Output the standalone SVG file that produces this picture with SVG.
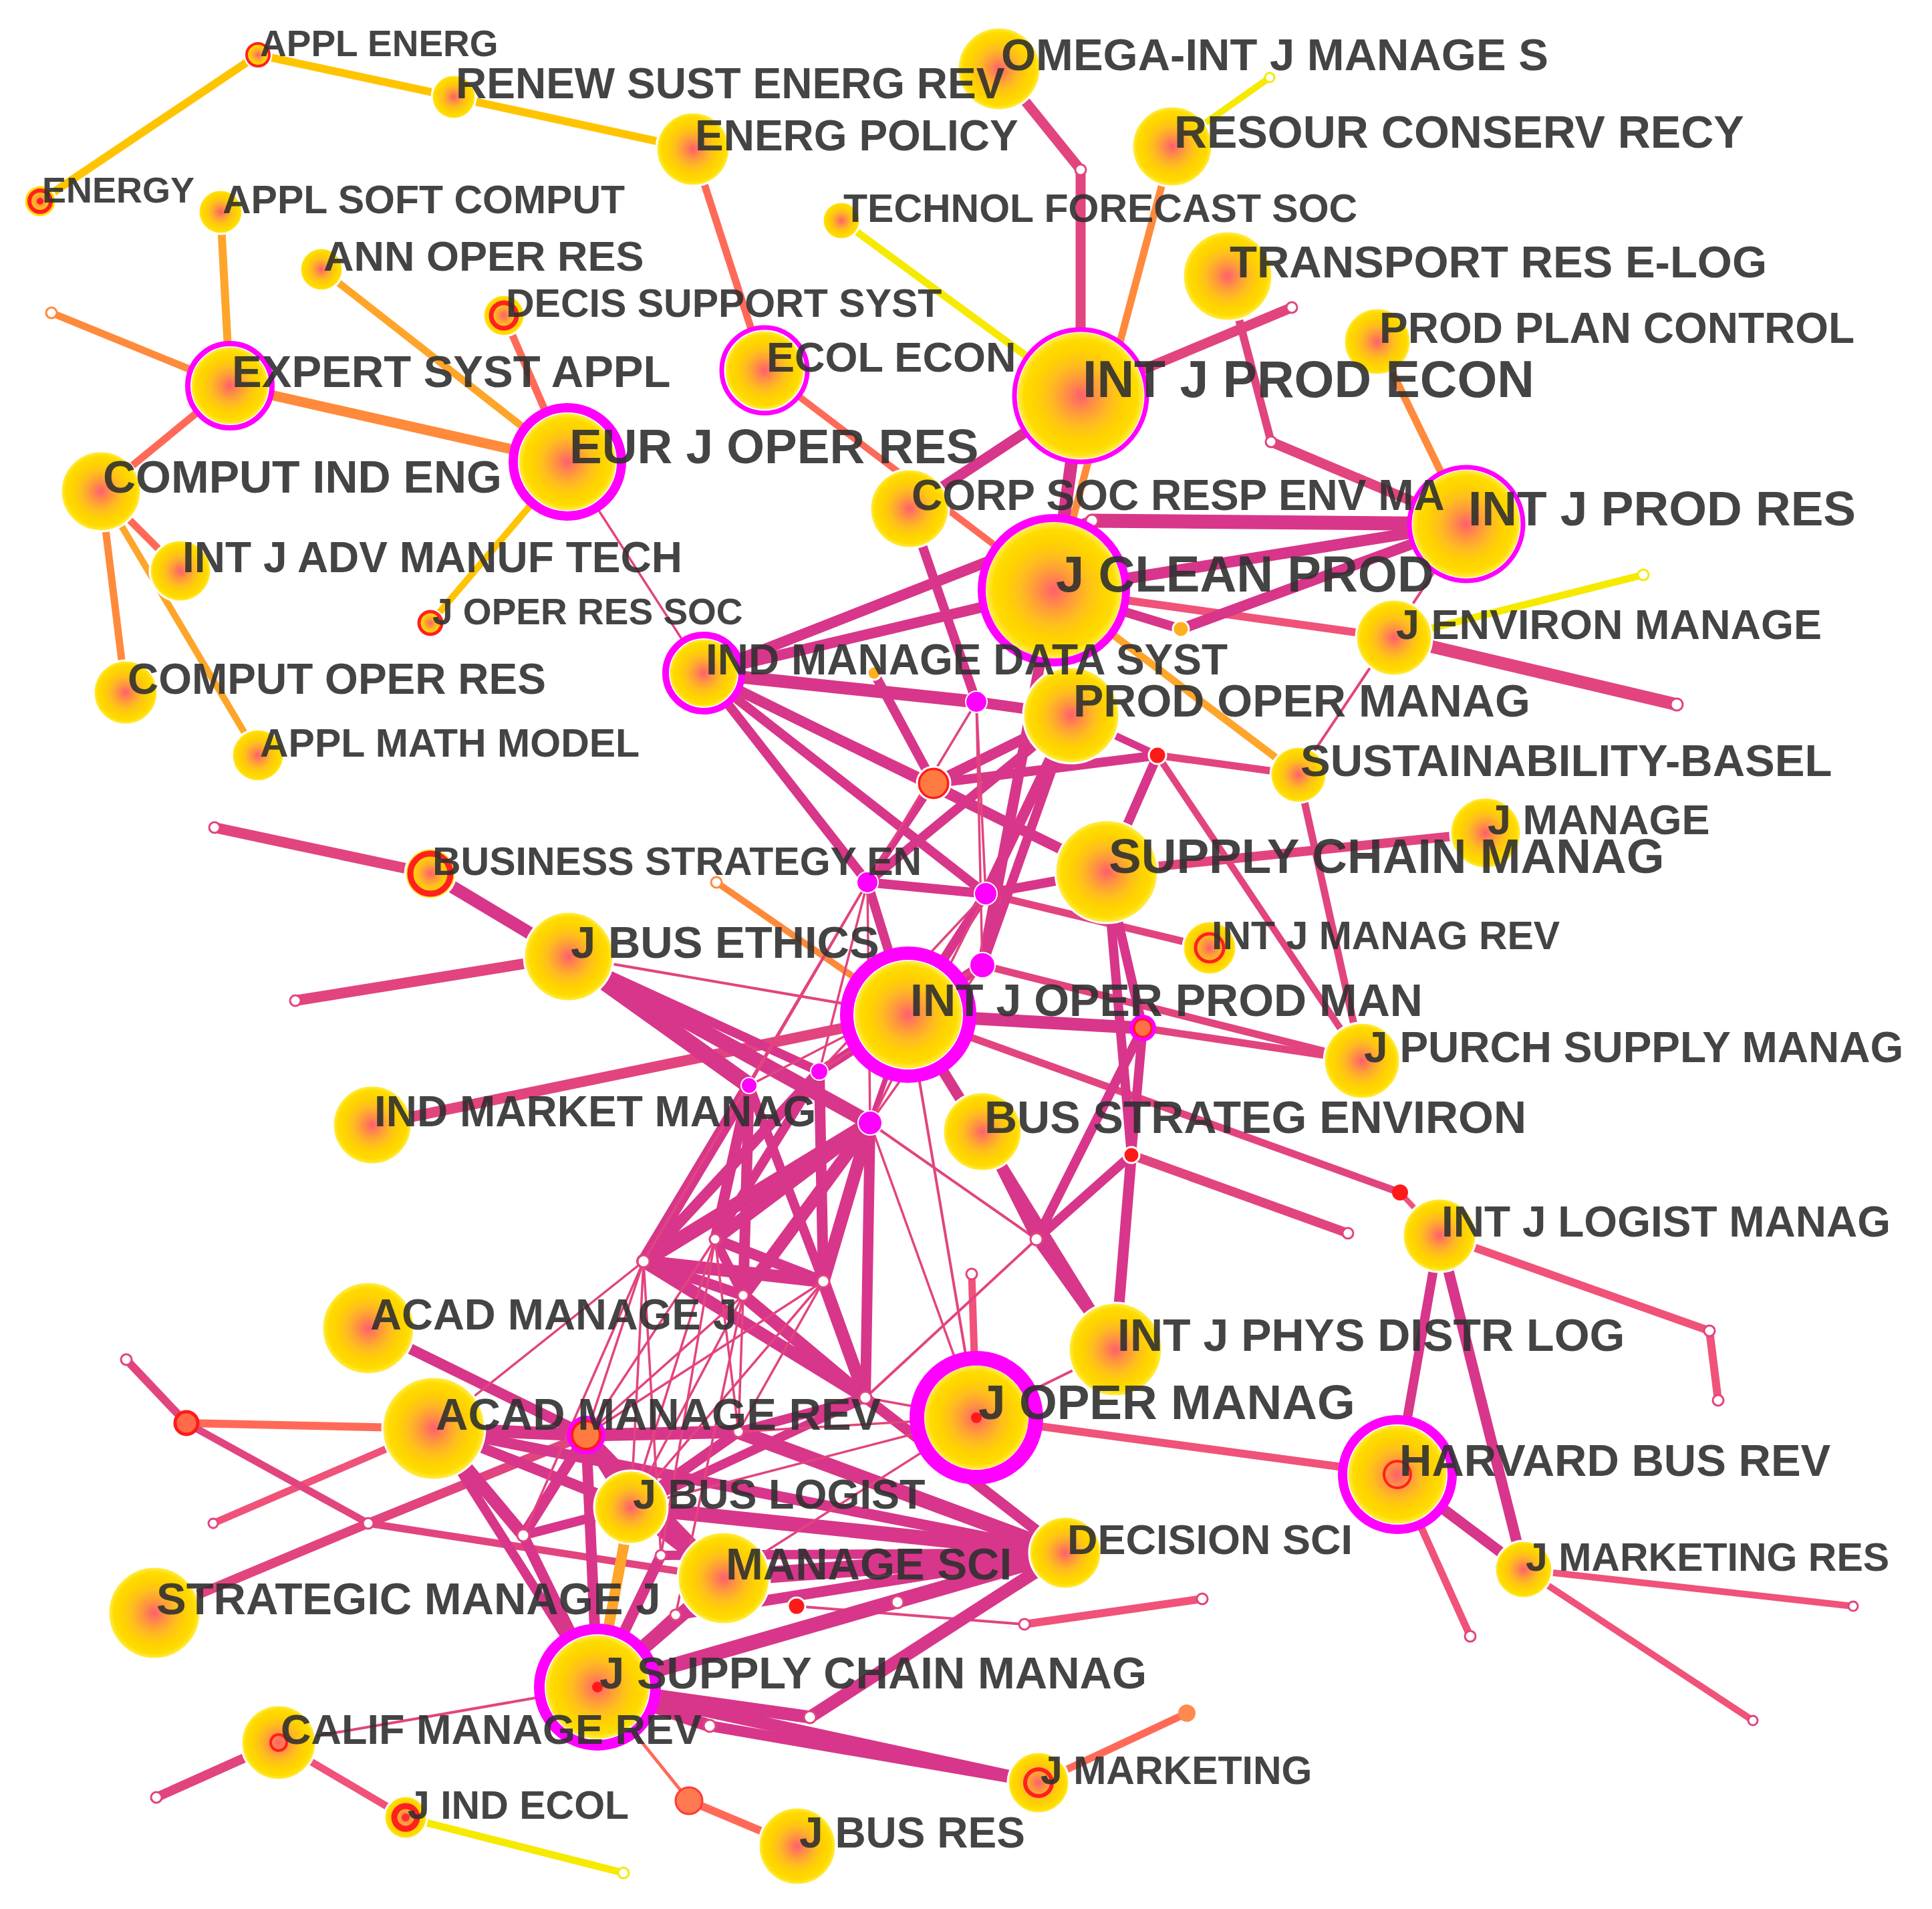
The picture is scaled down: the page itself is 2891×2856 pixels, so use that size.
<svg xmlns="http://www.w3.org/2000/svg" width="2891" height="2856" viewBox="0 0 2891 2856">
<defs>
<radialGradient id="ng" cx="50%" cy="50%" r="50%">
<stop offset="0" stop-color="#ff5e70"/>
<stop offset="0.12" stop-color="#ff7858"/>
<stop offset="0.3" stop-color="#ff9e38"/>
<stop offset="0.5" stop-color="#ffbf1c"/>
<stop offset="0.7" stop-color="#ffd200"/>
<stop offset="0.88" stop-color="#ffdc00"/>
<stop offset="0.95" stop-color="#ffe833"/>
<stop offset="1" stop-color="#fff060"/>
</radialGradient>
<style>
.e{fill:none;stroke-linecap:round}
.c1{stroke:#d8368a}.c2{stroke:#e2447f}.c3{stroke:#f0527a}.c4{stroke:#ff6a58}
.c5{stroke:#ff8a3c}.c6{stroke:#ffa52a}.c7{stroke:#ffc400}.c8{stroke:#f5ea00}
.nd{fill:url(#ng);stroke:#fff;stroke-width:3}
.mr{fill:none;stroke:#ff00ff}
.rr{fill:none;stroke:#ff2020}
.mg{fill:#ff00ff;stroke:#fff;stroke-width:2}
.w{fill:#fff;stroke:#e2447f;stroke-width:3}
.wy{fill:#fff;stroke:#f5ea00;stroke-width:3}
.wo{fill:#fff;stroke:#ff8a3c;stroke-width:3}
.lb{font-family:"Liberation Sans",Arial,sans-serif;font-weight:bold;fill:#303030;fill-opacity:.9}
</style>
</defs>
<rect width="2891" height="2856" fill="#fff"/>
<g id="connectors">
<line class="e c7" stroke-width="12" x1="60" y1="301" x2="386" y2="82"/>
<line class="e c7" stroke-width="12" x1="386" y1="82" x2="679" y2="145"/>
<line class="e c7" stroke-width="12" x1="679" y1="145" x2="1037" y2="223"/>
<line class="e c7" stroke-width="10" x1="849" y1="691" x2="644" y2="932"/>
<line class="e c8" stroke-width="11" x1="1259" y1="330" x2="1617" y2="592"/>
<line class="e c8" stroke-width="10" x1="1754" y1="219" x2="1900" y2="116"/>
<line class="e c8" stroke-width="11" x1="2086" y1="954" x2="2459" y2="860"/>
<line class="e c8" stroke-width="11" x1="607" y1="2719" x2="933" y2="2802"/>
<line class="e c6" stroke-width="12" x1="330" y1="317" x2="344" y2="577"/>
<line class="e c6" stroke-width="11" x1="481" y1="403" x2="849" y2="691"/>
<line class="e c6" stroke-width="10" x1="151" y1="735" x2="386" y2="1130"/>
<line class="e c6" stroke-width="11" x1="1577" y1="883" x2="1943" y2="1159"/>
<line class="e c5" stroke-width="11" x1="344" y1="577" x2="77" y2="468"/>
<line class="e c5" stroke-width="15" x1="344" y1="577" x2="849" y2="691"/>
<line class="e c5" stroke-width="11" x1="151" y1="735" x2="188" y2="1036"/>
<line class="e c5" stroke-width="11" x1="1754" y1="219" x2="1577" y2="883"/>
<line class="e c5" stroke-width="11" x1="2061" y1="511" x2="2194" y2="784"/>
<line class="e c5" stroke-width="10" x1="1072" y1="1320" x2="1359" y2="1518"/>
<line class="e c4" stroke-width="11" x1="1037" y1="223" x2="1144" y2="554"/>
<line class="e c4" stroke-width="11" x1="344" y1="577" x2="151" y2="735"/>
<line class="e c4" stroke-width="11" x1="754" y1="472" x2="849" y2="691"/>
<line class="e c4" stroke-width="11" x1="151" y1="735" x2="270" y2="854"/>
<line class="e c4" stroke-width="10" x1="1144" y1="554" x2="1577" y2="883"/>
<line class="e c4" stroke-width="12" x1="279" y1="2129" x2="649" y2="2137"/>
<line class="e c4" stroke-width="11" x1="1554" y1="2667" x2="1776" y2="2563"/>
<line class="e c4" stroke-width="5" x1="894" y1="2524" x2="1031" y2="2694"/>
<line class="e c4" stroke-width="12" x1="1031" y1="2694" x2="1193" y2="2762"/>
<line class="e c3" stroke-width="11" x1="649" y1="2137" x2="319" y2="2279"/>
<line class="e c3" stroke-width="12" x1="1577" y1="883" x2="2086" y2="954"/>
<line class="e c2" stroke-width="19" x1="2086" y1="954" x2="2509" y2="1054"/>
<line class="e c3" stroke-width="8" x1="2154" y1="1848" x2="2095" y2="1784"/>
<line class="e c3" stroke-width="12" x1="2154" y1="1848" x2="2558" y2="1991"/>
<line class="e c3" stroke-width="12" x1="2558" y1="1991" x2="2571" y2="2095"/>
<line class="e c3" stroke-width="11" x1="2091" y1="2206" x2="2200" y2="2448"/>
<line class="e c3" stroke-width="12" x1="2091" y1="2206" x2="1461" y2="2121"/>
<line class="e c3" stroke-width="10" x1="2280" y1="2348" x2="2773" y2="2403"/>
<line class="e c3" stroke-width="10" x1="2280" y1="2348" x2="2623" y2="2574"/>
<line class="e c3" stroke-width="11" x1="1454" y1="1906" x2="1461" y2="2121"/>
<line class="e c3" stroke-width="12" x1="1533" y1="2430" x2="1799" y2="2392"/>
<line class="e c3" stroke-width="11" x1="417" y1="2607" x2="607" y2="2719"/>
<line class="e c2" stroke-width="3.5" x1="849" y1="691" x2="1053" y2="1007"/>
<line class="e c2" stroke-width="15" x1="1495" y1="103" x2="1617" y2="254"/>
<line class="e c2" stroke-width="15" x1="1617" y1="254" x2="1617" y2="592"/>
<line class="e c2" stroke-width="15" x1="1617" y1="592" x2="1933" y2="460"/>
<line class="e c2" stroke-width="12" x1="1837" y1="413" x2="1902" y2="661"/>
<line class="e c2" stroke-width="15" x1="1902" y1="661" x2="2194" y2="784"/>
<line class="e c2" stroke-width="4" x1="2194" y1="784" x2="1943" y2="1159"/>
<line class="e c2" stroke-width="16" x1="644" y1="1307" x2="321" y2="1238"/>
<line class="e c2" stroke-width="16" x1="851" y1="1431" x2="442" y2="1497"/>
<line class="e c2" stroke-width="4" x1="851" y1="1431" x2="1359" y2="1518"/>
<line class="e c2" stroke-width="16" x1="557" y1="1683" x2="1359" y2="1518"/>
<line class="e c2" stroke-width="14" x1="1656" y1="1304" x2="2223" y2="1246"/>
<line class="e c2" stroke-width="11" x1="1475" y1="1337" x2="1810" y2="1418"/>
<line class="e c2" stroke-width="11" x1="1732" y1="1130" x2="1943" y2="1159"/>
<line class="e c2" stroke-width="10" x1="1732" y1="1130" x2="2038" y2="1587"/>
<line class="e c2" stroke-width="11" x1="1943" y1="1159" x2="2038" y2="1587"/>
<line class="e c2" stroke-width="11" x1="1710" y1="1538" x2="2038" y2="1587"/>
<line class="e c2" stroke-width="11" x1="1470" y1="1444" x2="2038" y2="1587"/>
<line class="e c2" stroke-width="11" x1="1359" y1="1518" x2="2095" y2="1784"/>
<line class="e c2" stroke-width="14" x1="1693" y1="1728" x2="2017" y2="1845"/>
<line class="e c2" stroke-width="12" x1="1053" y1="1007" x2="1397" y2="1172"/>
<line class="e c2" stroke-width="12" x1="279" y1="2129" x2="189" y2="2034"/>
<line class="e c2" stroke-width="11" x1="279" y1="2129" x2="551" y2="2279"/>
<line class="e c2" stroke-width="11" x1="551" y1="2279" x2="1083" y2="2361"/>
<line class="e c2" stroke-width="14" x1="231" y1="2413" x2="551" y2="2279"/>
<line class="e c2" stroke-width="14" x1="551" y1="2279" x2="877" y2="2147"/>
<line class="e c2" stroke-width="14" x1="417" y1="2607" x2="234" y2="2689"/>
<line class="e c2" stroke-width="4" x1="894" y1="2524" x2="417" y2="2607"/>
<line class="e c2" stroke-width="4" x1="1192" y1="2403" x2="1533" y2="2430"/>
<line class="e c2" stroke-width="4" x1="1359" y1="1518" x2="1461" y2="2121"/>
<line class="e c2" stroke-width="4" x1="1669" y1="2019" x2="1461" y2="2121"/>
<line class="e c2" stroke-width="4" x1="1551" y1="1854" x2="1295" y2="2091"/>
<line class="e c2" stroke-width="4" x1="1302" y1="1680" x2="1551" y2="1854"/>
<line class="e c1" stroke-width="19" x1="1617" y1="592" x2="1577" y2="883"/>
<line class="e c1" stroke-width="16" x1="1617" y1="592" x2="1361" y2="761"/>
<line class="e c1" stroke-width="16" x1="1053" y1="1007" x2="1634" y2="779"/>
<line class="e c1" stroke-width="16" x1="1053" y1="1007" x2="1577" y2="883"/>
<line class="e c1" stroke-width="21" x1="1634" y1="779" x2="2194" y2="784"/>
<line class="e c1" stroke-width="17" x1="1577" y1="883" x2="2194" y2="784"/>
<line class="e c1" stroke-width="16" x1="1767" y1="941" x2="2194" y2="784"/>
<line class="e c1" stroke-width="14" x1="1577" y1="883" x2="1767" y2="941"/>
<line class="e c1" stroke-width="14" x1="1361" y1="761" x2="1461" y2="1050"/>
<line class="e c1" stroke-width="19" x1="1053" y1="1007" x2="1461" y2="1050"/>
<line class="e c1" stroke-width="16" x1="1461" y1="1050" x2="1603" y2="1070"/>
<line class="e c1" stroke-width="16" x1="1053" y1="1007" x2="1656" y2="1304"/>
<line class="e c1" stroke-width="14" x1="1053" y1="1007" x2="1298" y2="1320"/>
<line class="e c1" stroke-width="14" x1="1053" y1="1007" x2="1475" y2="1337"/>
<line class="e c1" stroke-width="14" x1="1308" y1="1007" x2="1397" y2="1172"/>
<line class="e c1" stroke-width="16" x1="1397" y1="1172" x2="1603" y2="1070"/>
<line class="e c1" stroke-width="14" x1="1397" y1="1172" x2="1732" y2="1130"/>
<line class="e c1" stroke-width="11" x1="1397" y1="1172" x2="1656" y2="1304"/>
<line class="e c1" stroke-width="11" x1="1603" y1="1070" x2="1732" y2="1130"/>
<line class="e c1" stroke-width="16" x1="1603" y1="1070" x2="1475" y2="1337"/>
<line class="e c1" stroke-width="14" x1="1732" y1="1130" x2="1656" y2="1304"/>
<line class="e c1" stroke-width="14" x1="1298" y1="1320" x2="1475" y2="1337"/>
<line class="e c1" stroke-width="14" x1="1475" y1="1337" x2="1656" y2="1304"/>
<line class="e c1" stroke-width="14" x1="1656" y1="1304" x2="1710" y2="1538"/>
<line class="e c1" stroke-width="14" x1="1656" y1="1304" x2="1693" y2="1728"/>
<line class="e c1" stroke-width="16" x1="1693" y1="1728" x2="1669" y2="2019"/>
<line class="e c1" stroke-width="14" x1="1710" y1="1538" x2="1693" y2="1728"/>
<line class="e c1" stroke-width="19" x1="1359" y1="1518" x2="1710" y2="1538"/>
<line class="e c1" stroke-width="14" x1="1470" y1="1693" x2="1551" y2="1854"/>
<line class="e c1" stroke-width="14" x1="1551" y1="1854" x2="1669" y2="2019"/>
<line class="e c1" stroke-width="14" x1="1551" y1="1854" x2="1693" y2="1728"/>
<line class="e c1" stroke-width="14" x1="1551" y1="1854" x2="1710" y2="1538"/>
<line class="e c1" stroke-width="16" x1="1359" y1="1518" x2="1669" y2="2019"/>
<line class="e c1" stroke-width="14" x1="1359" y1="1518" x2="1298" y2="1320"/>
<line class="e c1" stroke-width="14" x1="1359" y1="1518" x2="1475" y2="1337"/>
<line class="e c1" stroke-width="16" x1="1359" y1="1518" x2="1470" y2="1444"/>
<line class="e c1" stroke-width="16" x1="1470" y1="1444" x2="1577" y2="883"/>
<line class="e c1" stroke-width="14" x1="1470" y1="1444" x2="1603" y2="1070"/>
<line class="e c1" stroke-width="11" x1="1298" y1="1320" x2="1397" y2="1172"/>
<line class="e c1" stroke-width="14" x1="1298" y1="1320" x2="1603" y2="1070"/>
<line class="e c1" stroke-width="19" x1="644" y1="1307" x2="851" y2="1431"/>
<line class="e c1" stroke-width="25" x1="851" y1="1431" x2="1121" y2="1624"/>
<line class="e c1" stroke-width="22" x1="851" y1="1431" x2="1302" y2="1680"/>
<line class="e c1" stroke-width="14" x1="851" y1="1431" x2="1226" y2="1603"/>
<line class="e c1" stroke-width="14" x1="1226" y1="1603" x2="1359" y2="1518"/>
<line class="e c1" stroke-width="8" x1="1302" y1="1680" x2="1359" y2="1518"/>
<line class="e c1" stroke-width="22" x1="1302" y1="1680" x2="963" y2="1887"/>
<line class="e c1" stroke-width="19" x1="1302" y1="1680" x2="1070" y2="1854"/>
<line class="e c1" stroke-width="19" x1="1302" y1="1680" x2="1232" y2="1917"/>
<line class="e c1" stroke-width="19" x1="1302" y1="1680" x2="1112" y2="1938"/>
<line class="e c1" stroke-width="19" x1="1121" y1="1624" x2="963" y2="1887"/>
<line class="e c1" stroke-width="16" x1="1121" y1="1624" x2="1070" y2="1854"/>
<line class="e c1" stroke-width="16" x1="1121" y1="1624" x2="1112" y2="1938"/>
<line class="e c1" stroke-width="16" x1="1226" y1="1603" x2="963" y2="1887"/>
<line class="e c1" stroke-width="16" x1="1226" y1="1603" x2="1232" y2="1917"/>
<line class="e c1" stroke-width="14" x1="1226" y1="1603" x2="1070" y2="1854"/>
<line class="e c1" stroke-width="19" x1="963" y1="1887" x2="1232" y2="1917"/>
<line class="e c1" stroke-width="16" x1="963" y1="1887" x2="1112" y2="1938"/>
<line class="e c1" stroke-width="16" x1="1070" y1="1854" x2="1232" y2="1917"/>
<line class="e c1" stroke-width="14" x1="1070" y1="1854" x2="1112" y2="1938"/>
<line class="e c1" stroke-width="19" x1="963" y1="1887" x2="1295" y2="2091"/>
<line class="e c1" stroke-width="19" x1="1232" y1="1917" x2="1295" y2="2091"/>
<line class="e c1" stroke-width="19" x1="1112" y1="1938" x2="1295" y2="2091"/>
<line class="e c1" stroke-width="16" x1="1302" y1="1680" x2="1295" y2="2091"/>
<line class="e c1" stroke-width="14" x1="1121" y1="1624" x2="1232" y2="1917"/>
<line class="e c1" stroke-width="16" x1="551" y1="1987" x2="877" y2="2147"/>
<line class="e c1" stroke-width="19" x1="649" y1="2137" x2="877" y2="2147"/>
<line class="e c1" stroke-width="19" x1="649" y1="2137" x2="783" y2="2297"/>
<line class="e c1" stroke-width="16" x1="783" y1="2297" x2="877" y2="2147"/>
<line class="e c1" stroke-width="14" x1="649" y1="2137" x2="894" y2="2524"/>
<line class="e c1" stroke-width="16" x1="649" y1="2137" x2="944" y2="2255"/>
<line class="e c1" stroke-width="16" x1="649" y1="2137" x2="1594" y2="2323"/>
<line class="e c1" stroke-width="19" x1="877" y1="2147" x2="944" y2="2255"/>
<line class="e c1" stroke-width="19" x1="877" y1="2147" x2="1105" y2="2142"/>
<line class="e c1" stroke-width="16" x1="877" y1="2147" x2="894" y2="2524"/>
<line class="e c1" stroke-width="19" x1="877" y1="2147" x2="1083" y2="2361"/>
<line class="e c1" stroke-width="19" x1="944" y1="2255" x2="1083" y2="2361"/>
<line class="e c1" stroke-width="22" x1="944" y1="2255" x2="1594" y2="2323"/>
<line class="e c1" stroke-width="22" x1="1105" y1="2142" x2="1594" y2="2323"/>
<line class="e c1" stroke-width="16" x1="1105" y1="2142" x2="944" y2="2255"/>
<line class="e c1" stroke-width="25" x1="1083" y1="2361" x2="1594" y2="2323"/>
<line class="e c1" stroke-width="22" x1="894" y1="2524" x2="1594" y2="2323"/>
<line class="e c1" stroke-width="22" x1="894" y1="2524" x2="1083" y2="2361"/>
<line class="e c1" stroke-width="19" x1="894" y1="2524" x2="1212" y2="2569"/>
<line class="e c1" stroke-width="19" x1="1212" y1="2569" x2="1594" y2="2323"/>
<line class="e c1" stroke-width="16" x1="1343" y1="2397" x2="1594" y2="2323"/>
<line class="e c1" stroke-width="16" x1="1343" y1="2397" x2="894" y2="2524"/>
<line class="e c1" stroke-width="19" x1="894" y1="2524" x2="1062" y2="2582"/>
<line class="e c1" stroke-width="16" x1="1062" y1="2582" x2="1554" y2="2667"/>
<line class="e c1" stroke-width="19" x1="894" y1="2524" x2="1554" y2="2667"/>
<line class="e c1" stroke-width="16" x1="989" y1="2327" x2="894" y2="2524"/>
<line class="e c1" stroke-width="14" x1="989" y1="2327" x2="1594" y2="2323"/>
<line class="e c1" stroke-width="16" x1="1011" y1="2416" x2="1594" y2="2323"/>
<line class="e c1" stroke-width="14" x1="1011" y1="2416" x2="894" y2="2524"/>
<line class="e c1" stroke-width="16" x1="1295" y1="2091" x2="1594" y2="2323"/>
<line class="e c1" stroke-width="14" x1="1295" y1="2091" x2="944" y2="2255"/>
<line class="e c1" stroke-width="14" x1="1295" y1="2091" x2="1105" y2="2142"/>
<line class="e c1" stroke-width="16" x1="783" y1="2297" x2="894" y2="2524"/>
<line class="e c1" stroke-width="14" x1="783" y1="2297" x2="944" y2="2255"/>
<line class="e c1" stroke-width="14" x1="2154" y1="1848" x2="2091" y2="2206"/>
<line class="e c1" stroke-width="16" x1="2154" y1="1848" x2="2280" y2="2348"/>
<line class="e c1" stroke-width="16" x1="2091" y1="2206" x2="2280" y2="2348"/>
<line class="e c6" stroke-width="16" x1="944" y1="2255" x2="894" y2="2524"/>
<line class="e c2" stroke-width="3.5" x1="1298" y1="1320" x2="1226" y2="1603"/>
<line class="e c2" stroke-width="3.5" x1="1298" y1="1320" x2="1121" y2="1624"/>
<line class="e c2" stroke-width="3.5" x1="1298" y1="1320" x2="1302" y2="1680"/>
<line class="e c2" stroke-width="3.5" x1="1475" y1="1337" x2="1302" y2="1680"/>
<line class="e c2" stroke-width="3.5" x1="1475" y1="1337" x2="1226" y2="1603"/>
<line class="e c2" stroke-width="3.5" x1="1470" y1="1444" x2="1121" y2="1624"/>
<line class="e c2" stroke-width="3.5" x1="1470" y1="1444" x2="1302" y2="1680"/>
<line class="e c2" stroke-width="3.5" x1="1470" y1="1444" x2="1226" y2="1603"/>
<line class="e c2" stroke-width="3.5" x1="1461" y1="1050" x2="1298" y2="1320"/>
<line class="e c2" stroke-width="3.5" x1="1461" y1="1050" x2="1475" y2="1337"/>
<line class="e c2" stroke-width="3.5" x1="1461" y1="1050" x2="1470" y2="1444"/>
<line class="e c2" stroke-width="3.5" x1="1298" y1="1320" x2="963" y2="1887"/>
<line class="e c2" stroke-width="3.5" x1="963" y1="1887" x2="877" y2="2147"/>
<line class="e c2" stroke-width="3.5" x1="963" y1="1887" x2="783" y2="2297"/>
<line class="e c2" stroke-width="3.5" x1="963" y1="1887" x2="944" y2="2255"/>
<line class="e c2" stroke-width="3.5" x1="963" y1="1887" x2="989" y2="2327"/>
<line class="e c2" stroke-width="3.5" x1="963" y1="1887" x2="649" y2="2137"/>
<line class="e c2" stroke-width="3.5" x1="1070" y1="1854" x2="877" y2="2147"/>
<line class="e c2" stroke-width="3.5" x1="1070" y1="1854" x2="944" y2="2255"/>
<line class="e c2" stroke-width="3.5" x1="1070" y1="1854" x2="989" y2="2327"/>
<line class="e c2" stroke-width="3.5" x1="1070" y1="1854" x2="1105" y2="2142"/>
<line class="e c2" stroke-width="3.5" x1="1112" y1="1938" x2="877" y2="2147"/>
<line class="e c2" stroke-width="3.5" x1="1112" y1="1938" x2="1105" y2="2142"/>
<line class="e c2" stroke-width="3.5" x1="1112" y1="1938" x2="944" y2="2255"/>
<line class="e c2" stroke-width="3.5" x1="1112" y1="1938" x2="1011" y2="2416"/>
<line class="e c2" stroke-width="3.5" x1="1232" y1="1917" x2="1105" y2="2142"/>
<line class="e c2" stroke-width="3.5" x1="1232" y1="1917" x2="944" y2="2255"/>
<line class="e c2" stroke-width="3.5" x1="1232" y1="1917" x2="877" y2="2147"/>
<line class="e c2" stroke-width="3.5" x1="1461" y1="2121" x2="1083" y2="2361"/>
<line class="e c2" stroke-width="3.5" x1="1461" y1="2121" x2="944" y2="2255"/>
<line class="e c2" stroke-width="3.5" x1="1461" y1="2121" x2="1295" y2="2091"/>
<line class="e c2" stroke-width="3.5" x1="1302" y1="1680" x2="1461" y2="2121"/>
<line class="e c2" stroke-width="3.5" x1="1461" y1="2121" x2="1105" y2="2142"/>
</g>
<g id="n-small">
<circle class="w" cx="1617" cy="254" r="8"/>
<circle class="w" cx="1902" cy="661" r="8"/>
<circle class="w" cx="1634" cy="779" r="9"/>
<circle class="w" cx="1551" cy="1854" r="9"/>
<circle class="w" cx="1454" cy="1906" r="8"/>
<circle class="w" cx="783" cy="2297" r="9"/>
<circle class="w" cx="551" cy="2279" r="8"/>
<circle class="w" cx="319" cy="2279" r="7"/>
<circle class="w" cx="189" cy="2034" r="8"/>
<circle class="w" cx="963" cy="1887" r="9"/>
<circle class="w" cx="1070" cy="1854" r="8"/>
<circle class="w" cx="1232" cy="1917" r="9"/>
<circle class="w" cx="1112" cy="1938" r="8"/>
<circle class="w" cx="1295" cy="2091" r="9"/>
<circle class="w" cx="989" cy="2327" r="8"/>
<circle class="w" cx="1011" cy="2416" r="8"/>
<circle class="w" cx="1105" cy="2142" r="8"/>
<circle class="w" cx="1343" cy="2397" r="9"/>
<circle class="w" cx="1212" cy="2569" r="9"/>
<circle class="w" cx="1062" cy="2582" r="9"/>
<circle class="w" cx="1533" cy="2430" r="8"/>
<circle class="w" cx="1799" cy="2392" r="8"/>
<circle class="w" cx="2558" cy="1991" r="8"/>
<circle class="w" cx="2571" cy="2095" r="8"/>
<circle class="w" cx="2200" cy="2448" r="8"/>
<circle class="w" cx="2773" cy="2403" r="7"/>
<circle class="w" cx="2623" cy="2574" r="7"/>
<circle class="w" cx="2017" cy="1845" r="8"/>
<circle class="w" cx="2509" cy="1054" r="9"/>
<circle class="w" cx="1933" cy="460" r="8"/>
<circle class="w" cx="321" cy="1238" r="8"/>
<circle class="w" cx="442" cy="1497" r="8"/>
<circle class="w" cx="234" cy="2689" r="8"/>
<circle class="wo" cx="77" cy="468" r="8"/>
<circle class="wo" cx="1072" cy="1320" r="8"/>
<circle class="wy" cx="1900" cy="116" r="7"/>
<circle class="wy" cx="2459" cy="860" r="8"/>
<circle class="wy" cx="933" cy="2802" r="8"/>
<circle class="mg" cx="1298" cy="1320" r="16"/>
<circle class="mg" cx="1475" cy="1337" r="17"/>
<circle class="mg" cx="1470" cy="1444" r="19"/>
<circle class="mg" cx="1461" cy="1050" r="16"/>
<circle class="mg" cx="1226" cy="1603" r="13"/>
<circle class="mg" cx="1121" cy="1624" r="12"/>
<circle class="mg" cx="1302" cy="1680" r="18"/>
<circle cx="1710" cy="1538" r="20" fill="#ff00ff"/><circle cx="1710" cy="1538" r="13" fill="#ff7048" stroke="#ff1a1a" stroke-width="3"/>
<circle cx="1397" cy="1172" r="22" fill="#ff7a40" stroke="#ff1a1a" stroke-width="4"/><circle cx="1397" cy="1172" r="25" fill="none" stroke="#fff" stroke-width="3"/>
<circle cx="1732" cy="1130" r="13" fill="#ff1a1a" stroke="#fff" stroke-width="3"/>
<circle cx="1693" cy="1728" r="12" fill="#ff1a1a" stroke="#fff" stroke-width="3"/>
<circle cx="2095" cy="1784" r="12" fill="#ff1a1a"/>
<circle cx="279" cy="2129" r="17" fill="#ff6a48" stroke="#ff1a1a" stroke-width="5"/>
<circle cx="877" cy="2147" r="29" fill="#ff00ff"/><circle cx="877" cy="2147" r="21" fill="#ff7a40" stroke="#ff1a1a" stroke-width="4"/>
<circle cx="1192" cy="2403" r="13" fill="#ff1a1a" stroke="#fff" stroke-width="3"/>
<circle cx="1031" cy="2694" r="20" fill="#ff7a50" stroke="#ff3a3a" stroke-width="3"/>
<circle cx="1776" cy="2563" r="13" fill="#ff8a50"/>
<circle cx="1767" cy="941" r="12" fill="#ffb020" stroke="#fff" stroke-width="3"/>
<circle cx="1308" cy="1007" r="10" fill="#ffb020" stroke="#fff" stroke-width="3"/>
</g>
<g id="n-omega"><circle class="nd" cx="1495" cy="103" r="62"/><text class="lb" x="1498" y="105" font-size="67">OMEGA-INT J MANAGE S</text></g>
<g id="n-energy"><circle class="nd" cx="60" cy="301" r="24"/><circle class="rr" cx="60" cy="301" r="16" stroke-width="6"/><circle cx="60" cy="301" r="5" fill="#ff2020"/><text class="lb" x="63" y="303" font-size="54">ENERGY</text></g>
<g id="n-appl-energ"><circle class="nd" cx="386" cy="82" r="20"/><circle class="rr" cx="386" cy="82" r="17" stroke-width="4"/><text class="lb" x="389" y="84" font-size="55">APPL ENERG</text></g>
<g id="n-renew"><circle class="nd" cx="679" cy="145" r="33"/><text class="lb" x="682" y="147" font-size="64">RENEW SUST ENERG REV</text></g>
<g id="n-energ-policy"><circle class="nd" cx="1037" cy="223" r="55"/><text class="lb" x="1040" y="225" font-size="64">ENERG POLICY</text></g>
<g id="n-resour"><circle class="nd" cx="1754" cy="219" r="60"/><text class="lb" x="1757" y="221" font-size="68">RESOUR CONSERV RECY</text></g>
<g id="n-appl-soft"><circle class="nd" cx="330" cy="317" r="33"/><text class="lb" x="333" y="319" font-size="59">APPL SOFT COMPUT</text></g>
<g id="n-technol"><circle class="nd" cx="1259" cy="330" r="28"/><text class="lb" x="1262" y="332" font-size="59">TECHNOL FORECAST SOC</text></g>
<g id="n-ann-oper"><circle class="nd" cx="481" cy="403" r="32"/><text class="lb" x="484" y="405" font-size="63">ANN OPER RES</text></g>
<g id="n-transport"><circle class="nd" cx="1837" cy="413" r="67"/><text class="lb" x="1840" y="415" font-size="67">TRANSPORT RES E-LOG</text></g>
<g id="n-decis"><circle class="nd" cx="754" cy="472" r="31"/><circle class="rr" cx="754" cy="472" r="19" stroke-width="7"/><text class="lb" x="757" y="474" font-size="59">DECIS SUPPORT SYST</text></g>
<g id="n-prod-plan"><circle class="nd" cx="2061" cy="511" r="50"/><text class="lb" x="2064" y="513" font-size="64">PROD PLAN CONTROL</text></g>
<g id="n-expert"><circle class="nd" cx="344" cy="577" r="59"/><circle class="mr" cx="344" cy="577" r="63" stroke-width="8"/><text class="lb" x="347" y="579" font-size="67">EXPERT SYST APPL</text></g>
<g id="n-int-j-prod-econ"><circle class="nd" cx="1617" cy="592" r="96"/><circle class="mr" cx="1617" cy="592" r="99" stroke-width="7"/><text class="lb" x="1620" y="594" font-size="77">INT J PROD ECON</text></g>
<g id="n-ecol-econ"><circle class="nd" cx="1144" cy="554" r="60"/><circle class="mr" cx="1144" cy="554" r="64" stroke-width="7"/><text class="lb" x="1147" y="556" font-size="63">ECOL ECON</text></g>
<g id="n-eur-j-oper-res"><circle class="nd" cx="849" cy="691" r="74"/><circle class="mr" cx="849" cy="691" r="81" stroke-width="14"/><text class="lb" x="852" y="693" font-size="73">EUR J OPER RES</text></g>
<g id="n-comput-ind"><circle class="nd" cx="151" cy="735" r="60"/><text class="lb" x="154" y="737" font-size="68">COMPUT IND ENG</text></g>
<g id="n-int-j-prod-res"><circle class="nd" cx="2194" cy="784" r="82"/><circle class="mr" cx="2194" cy="784" r="85" stroke-width="7"/><text class="lb" x="2197" y="786" font-size="73">INT J PROD RES</text></g>
<g id="n-environ"><circle class="nd" cx="2086" cy="954" r="57"/><text class="lb" x="2089" y="956" font-size="63">J ENVIRON MANAGE</text></g>
<g id="n-j-clean-prod"><circle class="nd" cx="1577" cy="883" r="103"/><circle class="mr" cx="1577" cy="883" r="108" stroke-width="12"/><text class="lb" x="1580" y="885" font-size="76">J CLEAN PROD</text></g>
<g id="n-corp-soc"><circle class="nd" cx="1361" cy="761" r="59"/><text class="lb" x="1364" y="763" font-size="64">CORP SOC RESP ENV MA</text></g>
<g id="n-adv-manuf"><circle class="nd" cx="270" cy="854" r="46"/><text class="lb" x="273" y="856" font-size="64">INT J ADV MANUF TECH</text></g>
<g id="n-oper-res-soc"><circle class="nd" cx="644" cy="932" r="20"/><circle class="rr" cx="644" cy="932" r="17" stroke-width="5"/><text class="lb" x="647" y="934" font-size="55">J OPER RES SOC</text></g>
<g id="n-prod-oper"><circle class="nd" cx="1603" cy="1070" r="72"/><text class="lb" x="1606" y="1072" font-size="68">PROD OPER MANAG</text></g>
<g id="n-ind-manage"><circle class="nd" cx="1053" cy="1007" r="52"/><circle class="mr" cx="1053" cy="1007" r="57" stroke-width="10"/><text class="lb" x="1056" y="1009" font-size="64">IND MANAGE DATA SYST</text></g>
<g id="n-comput-oper"><circle class="nd" cx="188" cy="1036" r="48"/><text class="lb" x="191" y="1038" font-size="64">COMPUT OPER RES</text></g>
<g id="n-appl-math"><circle class="nd" cx="386" cy="1130" r="39"/><text class="lb" x="389" y="1132" font-size="59">APPL MATH MODEL</text></g>
<g id="n-sustain"><circle class="nd" cx="1943" cy="1159" r="42"/><text class="lb" x="1946" y="1161" font-size="67">SUSTAINABILITY-BASEL</text></g>
<g id="n-j-manage"><circle class="nd" cx="2223" cy="1246" r="53"/><text class="lb" x="2226" y="1248" font-size="63">J MANAGE</text></g>
<g id="n-supply-chain"><circle class="nd" cx="1656" cy="1304" r="77"/><text class="lb" x="1659" y="1306" font-size="73">SUPPLY CHAIN MANAG</text></g>
<g id="n-business-strat"><circle class="nd" cx="644" cy="1307" r="38"/><circle class="rr" cx="644" cy="1307" r="30" stroke-width="9"/><text class="lb" x="647" y="1309" font-size="59">BUSINESS STRATEGY EN</text></g>
<g id="n-oper-prod-man"><circle class="nd" cx="1359" cy="1518" r="82"/><circle class="mr" cx="1359" cy="1518" r="92" stroke-width="20"/><text class="lb" x="1362" y="1520" font-size="68">INT J OPER PROD MAN</text></g>
<g id="n-bus-ethics"><circle class="nd" cx="851" cy="1431" r="67"/><text class="lb" x="854" y="1433" font-size="67">J BUS ETHICS</text></g>
<g id="n-manag-rev"><circle class="nd" cx="1810" cy="1418" r="40"/><circle class="rr" cx="1810" cy="1418" r="21" stroke-width="5"/><text class="lb" x="1813" y="1420" font-size="59">INT J MANAG REV</text></g>
<g id="n-purch"><circle class="nd" cx="2038" cy="1587" r="57"/><text class="lb" x="2041" y="1589" font-size="64">J PURCH SUPPLY MANAG</text></g>
<g id="n-ind-market"><circle class="nd" cx="557" cy="1683" r="59"/><text class="lb" x="560" y="1685" font-size="64">IND MARKET MANAG</text></g>
<g id="n-bus-strateg"><circle class="nd" cx="1470" cy="1693" r="59"/><text class="lb" x="1473" y="1695" font-size="68">BUS STRATEG ENVIRON</text></g>
<g id="n-logist"><circle class="nd" cx="2154" cy="1848" r="55"/><text class="lb" x="2157" y="1850" font-size="64">INT J LOGIST MANAG</text></g>
<g id="n-acad-j"><circle class="nd" cx="551" cy="1987" r="69"/><text class="lb" x="554" y="1989" font-size="65">ACAD MANAGE J</text></g>
<g id="n-phys-distr"><circle class="nd" cx="1669" cy="2019" r="70"/><text class="lb" x="1672" y="2021" font-size="68">INT J PHYS DISTR LOG</text></g>
<g id="n-j-oper-manag"><circle class="nd" cx="1461" cy="2121" r="79"/><circle class="mr" cx="1461" cy="2121" r="89" stroke-width="22"/><circle cx="1461" cy="2121" r="8" fill="#ff1a1a"/><text class="lb" x="1464" y="2123" font-size="73">J OPER MANAG</text></g>
<g id="n-acad-rev"><circle class="nd" cx="649" cy="2137" r="77"/><text class="lb" x="652" y="2139" font-size="67">ACAD MANAGE REV</text></g>
<g id="n-harvard"><circle class="nd" cx="2091" cy="2206" r="75"/><circle class="mr" cx="2091" cy="2206" r="82" stroke-width="14"/><circle class="rr" cx="2091" cy="2206" r="20" stroke-width="4"/><text class="lb" x="2094" y="2208" font-size="67">HARVARD BUS REV</text></g>
<g id="n-bus-logist"><circle class="nd" cx="944" cy="2255" r="55"/><text class="lb" x="947" y="2257" font-size="63">J BUS LOGIST</text></g>
<g id="n-decision"><circle class="nd" cx="1594" cy="2323" r="54"/><text class="lb" x="1597" y="2325" font-size="63">DECISION SCI</text></g>
<g id="n-manage-sci"><circle class="nd" cx="1083" cy="2361" r="69"/><text class="lb" x="1086" y="2363" font-size="67">MANAGE SCI</text></g>
<g id="n-marketing-res"><circle class="nd" cx="2280" cy="2348" r="43"/><text class="lb" x="2283" y="2350" font-size="59">J MARKETING RES</text></g>
<g id="n-strategic"><circle class="nd" cx="231" cy="2413" r="69"/><text class="lb" x="234" y="2415" font-size="67">STRATEGIC MANAGE J</text></g>
<g id="n-j-supply"><circle class="nd" cx="894" cy="2524" r="79"/><circle class="mr" cx="894" cy="2524" r="87" stroke-width="16"/><circle cx="894" cy="2524" r="8" fill="#ff1a1a"/><text class="lb" x="897" y="2526" font-size="67">J SUPPLY CHAIN MANAG</text></g>
<g id="n-calif"><circle class="nd" cx="417" cy="2607" r="56"/><circle class="rr" cx="417" cy="2607" r="12" stroke-width="4"/><text class="lb" x="420" y="2609" font-size="63">CALIF MANAGE REV</text></g>
<g id="n-marketing"><circle class="nd" cx="1554" cy="2667" r="46"/><circle class="rr" cx="1554" cy="2667" r="20" stroke-width="6"/><text class="lb" x="1557" y="2669" font-size="59">J MARKETING</text></g>
<g id="n-ind-ecol"><circle class="nd" cx="607" cy="2719" r="32"/><circle class="rr" cx="607" cy="2719" r="17" stroke-width="9"/><circle cx="607" cy="2719" r="6" fill="#ff3030"/><text class="lb" x="610" y="2721" font-size="59">J IND ECOL</text></g>
<g id="n-bus-res"><circle class="nd" cx="1193" cy="2762" r="58"/><text class="lb" x="1196" y="2764" font-size="64">J BUS RES</text></g>
</svg>
